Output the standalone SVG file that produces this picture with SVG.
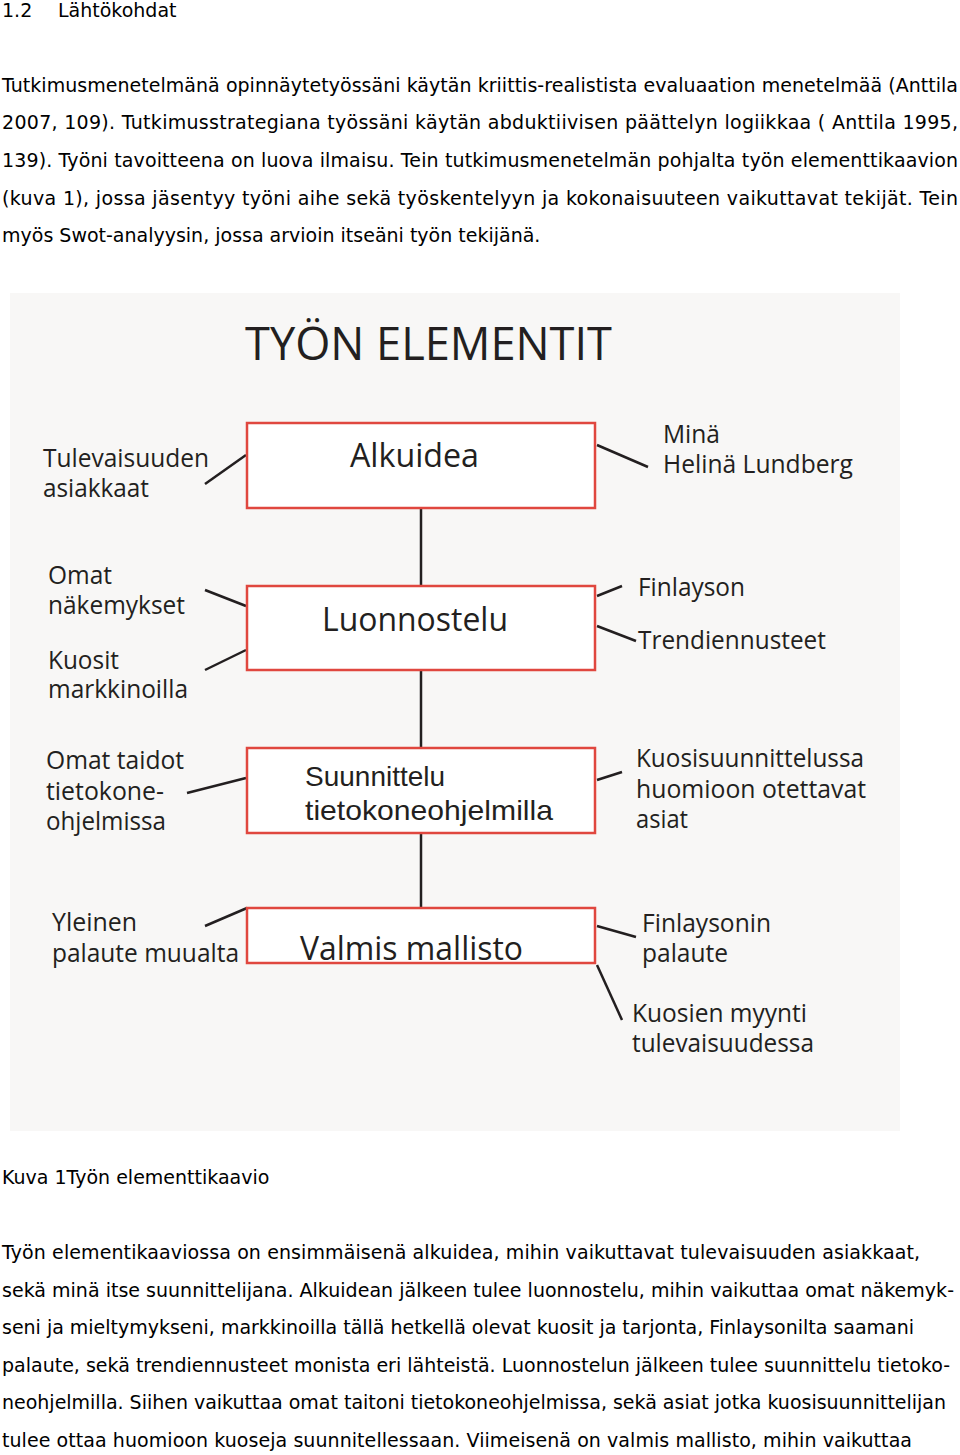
<svg xmlns="http://www.w3.org/2000/svg" width="960" height="1455" viewBox="0 0 960 1455">
<style>
.b{font-family:"DejaVu Sans",Verdana,sans-serif;font-size:19px;fill:#000}
.d{font-family:"Open Sans","Liberation Sans",sans-serif;fill:#231f20}
.l{font-size:25px}
.n{font-size:32px}
.box{fill:#fff;stroke:#e0473f;stroke-width:2.5}
.c line{stroke:#231f20;stroke-width:2.5}
</style>
<rect width="960" height="1455" fill="#fff"/>
<text class="b" x="2" y="17" font-size="20">1.2</text><text class="b" x="58" y="17" font-size="20">Lähtökohdat</text>
<g class="b">
<text x="2" y="92" textLength="956" lengthAdjust="spacing">Tutkimusmenetelmänä opinnäytetyössäni käytän kriittis-realistista evaluaation menetelmää (Anttila</text>
<text x="2" y="129" textLength="956" lengthAdjust="spacing">2007, 109). Tutkimusstrategiana työssäni käytän abduktiivisen päättelyn logiikkaa ( Anttila 1995,</text>
<text x="2" y="167" textLength="956" lengthAdjust="spacing">139). Työni tavoitteena on luova ilmaisu. Tein tutkimusmenetelmän pohjalta työn elementtikaavion</text>
<text x="2" y="205" textLength="956" lengthAdjust="spacing">(kuva 1), jossa jäsentyy työni aihe sekä työskentelyyn ja kokonaisuuteen vaikuttavat tekijät. Tein</text>
<text x="2" y="242">myös Swot-analyysin, jossa arvioin itseäni työn tekijänä.</text>
<text x="2" y="1184">Kuva 1Työn elementtikaavio</text>
<text x="2" y="1259" textLength="918" lengthAdjust="spacing">Työn elementikaaviossa on ensimmäisenä alkuidea, mihin vaikuttavat tulevaisuuden asiakkaat,</text>
<text x="2" y="1297" textLength="952" lengthAdjust="spacing">sekä minä itse suunnittelijana. Alkuidean jälkeen tulee luonnostelu, mihin vaikuttaa omat näkemyk-</text>
<text x="2" y="1334" textLength="912" lengthAdjust="spacing">seni ja mieltymykseni, markkinoilla tällä hetkellä olevat kuosit ja tarjonta, Finlaysonilta saamani</text>
<text x="2" y="1372" textLength="948" lengthAdjust="spacing">palaute, sekä trendiennusteet monista eri lähteistä. Luonnostelun jälkeen tulee suunnittelu tietoko-</text>
<text x="2" y="1409" textLength="944" lengthAdjust="spacing">neohjelmilla. Siihen vaikuttaa omat taitoni tietokoneohjelmissa, sekä asiat jotka kuosisuunnittelijan</text>
<text x="2" y="1447" textLength="910" lengthAdjust="spacing">tulee ottaa huomioon kuoseja suunnitellessaan. Viimeisenä on valmis mallisto, mihin vaikuttaa</text>
</g>
<rect x="10" y="293" width="890" height="838" fill="#f8f7f6"/>
<text class="d" x="245" y="360" font-size="46" textLength="367" lengthAdjust="spacingAndGlyphs">TYÖN ELEMENTIT</text>
<g class="c">
<line x1="421" y1="508" x2="421" y2="586"/>
<line x1="421" y1="670" x2="421" y2="748"/>
<line x1="421" y1="833" x2="421" y2="908"/>
<line x1="205" y1="484" x2="246" y2="455"/>
<line x1="597" y1="445" x2="648" y2="467"/>
<line x1="205" y1="590" x2="246" y2="606"/>
<line x1="205" y1="670" x2="246" y2="650"/>
<line x1="597" y1="596" x2="622" y2="586"/>
<line x1="597" y1="626" x2="636" y2="641"/>
<line x1="187" y1="793" x2="246" y2="778"/>
<line x1="597" y1="780" x2="622" y2="772"/>
<line x1="205" y1="926" x2="247" y2="908"/>
<line x1="597" y1="926" x2="636" y2="937"/>
<line x1="597" y1="965" x2="622" y2="1020"/>
</g>
<g id="alkuidea"><rect class="box" x="247" y="423" width="348" height="85"/><text class="d n" x="350" y="467" textLength="129" lengthAdjust="spacingAndGlyphs">Alkuidea</text></g>
<g id="luonnostelu"><rect class="box" x="247" y="586" width="348" height="84"/><text class="d n" x="322" y="631" textLength="186" lengthAdjust="spacingAndGlyphs">Luonnostelu</text></g>
<g id="suunnittelu"><rect class="box" x="247" y="748" width="348" height="85"/><text x="305" y="786" font-family="Liberation Sans,sans-serif" font-size="28" fill="#231f20">Suunnittelu</text><text x="305" y="820" font-family="Liberation Sans,sans-serif" font-size="28" fill="#231f20" textLength="248" lengthAdjust="spacingAndGlyphs">tietokoneohjelmilla</text></g>
<g id="valmis"><rect class="box" x="247" y="908" width="348" height="55"/><text class="d n" x="300" y="960" textLength="223" lengthAdjust="spacingAndGlyphs">Valmis mallisto</text></g>
<g class="d l">
<text x="43" y="467" textLength="166" lengthAdjust="spacingAndGlyphs">Tulevaisuuden</text>
<text x="43" y="497" textLength="106" lengthAdjust="spacingAndGlyphs">asiakkaat</text>
<text x="663" y="443" textLength="57" lengthAdjust="spacingAndGlyphs">Minä</text>
<text x="663" y="473" textLength="190" lengthAdjust="spacingAndGlyphs">Helinä Lundberg</text>
<text x="48" y="584" textLength="64" lengthAdjust="spacingAndGlyphs">Omat</text>
<text x="48" y="614" textLength="137" lengthAdjust="spacingAndGlyphs">näkemykset</text>
<text x="48" y="669" textLength="71" lengthAdjust="spacingAndGlyphs">Kuosit</text>
<text x="48" y="698" textLength="140" lengthAdjust="spacingAndGlyphs">markkinoilla</text>
<text x="638" y="596" textLength="107" lengthAdjust="spacingAndGlyphs">Finlayson</text>
<text x="638" y="649" textLength="188" lengthAdjust="spacingAndGlyphs">Trendiennusteet</text>
<text x="46" y="769" textLength="138" lengthAdjust="spacingAndGlyphs">Omat taidot</text>
<text x="46" y="800" textLength="118" lengthAdjust="spacingAndGlyphs">tietokone-</text>
<text x="46" y="830" textLength="120" lengthAdjust="spacingAndGlyphs">ohjelmissa</text>
<text x="636" y="767" textLength="228" lengthAdjust="spacingAndGlyphs">Kuosisuunnittelussa</text>
<text x="636" y="798" textLength="230" lengthAdjust="spacingAndGlyphs">huomioon otettavat</text>
<text x="636" y="828" textLength="52" lengthAdjust="spacingAndGlyphs">asiat</text>
<text x="52" y="931" textLength="85" lengthAdjust="spacingAndGlyphs">Yleinen</text>
<text x="52" y="962" textLength="187" lengthAdjust="spacingAndGlyphs">palaute muualta</text>
<text x="642" y="932" textLength="129" lengthAdjust="spacingAndGlyphs">Finlaysonin</text>
<text x="642" y="962" textLength="86" lengthAdjust="spacingAndGlyphs">palaute</text>
<text x="632" y="1022" textLength="175" lengthAdjust="spacingAndGlyphs">Kuosien myynti</text>
<text x="632" y="1052" textLength="182" lengthAdjust="spacingAndGlyphs">tulevaisuudessa</text>
</g>
</svg>
